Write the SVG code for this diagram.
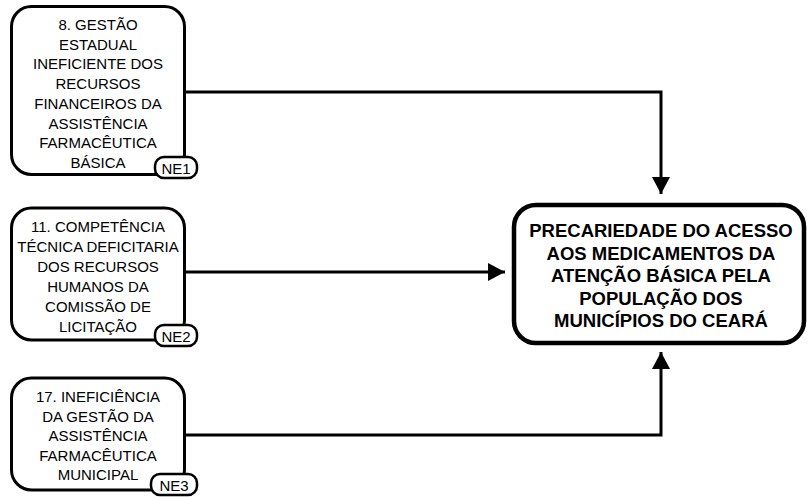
<svg xmlns="http://www.w3.org/2000/svg" width="807" height="497" viewBox="0 0 807 497">
<style>
.box{fill:#fff;stroke:#000;stroke-width:3}
.main{fill:#fff;stroke:#000;stroke-width:4.5}
.badge{fill:#fff;stroke:#000;stroke-width:2.5}
.t{font-family:"Liberation Sans",Arial,sans-serif;font-size:15px;fill:#000;text-anchor:middle}
.tb{font-family:"Liberation Sans",Arial,sans-serif;font-size:18.5px;font-weight:bold;fill:#000;text-anchor:middle}
.c{fill:none;stroke:#000;stroke-width:3}
</style>
<defs>
<marker id="ah" markerUnits="userSpaceOnUse" markerWidth="18" markerHeight="18" refX="17" refY="9" orient="auto" viewBox="0 0 18 18">
<path d="M0,0 L17,9 L0,18 Z" fill="#000"/>
</marker>
</defs>
<g id="connectors">
<path class="c" d="M185,92 H661 V194" marker-end="url(#ah)"/>
<path class="c" d="M185,272 H505" marker-end="url(#ah)"/>
<path class="c" d="M185,435 H661 V352" marker-end="url(#ah)"/>
</g>
<g id="node1">
<rect class="box" x="11.5" y="6.5" width="173" height="168" rx="20"/>
<text class="t" x="98" y="30">8. GESTÃO</text>
<text class="t" x="98" y="49.7">ESTADUAL</text>
<text class="t" x="98" y="69.4">INEFICIENTE DOS</text>
<text class="t" x="98" y="89.1">RECURSOS</text>
<text class="t" x="98" y="108.8">FINANCEIROS DA</text>
<text class="t" x="98" y="128.5">ASSISTÊNCIA</text>
<text class="t" x="98" y="148.2">FARMACÊUTICA</text>
<text class="t" x="98" y="168">BÁSICA</text>
<rect class="badge" x="155" y="157" width="42" height="21" rx="9"/>
<text class="t" x="176" y="174">NE1</text>
</g>
<g id="node2">
<rect class="box" x="11.5" y="208" width="173" height="132" rx="20"/>
<text class="t" x="98" y="232">11. COMPETÊNCIA</text>
<text class="t" x="98" y="252">TÉCNICA DEFICITARIA</text>
<text class="t" x="98" y="272">DOS RECURSOS</text>
<text class="t" x="98" y="292">HUMANOS DA</text>
<text class="t" x="98" y="312">COMISSÃO DE</text>
<text class="t" x="98" y="332">LICITAÇÃO</text>
<rect class="badge" x="155" y="325" width="42" height="21" rx="9"/>
<text class="t" x="176" y="342">NE2</text>
</g>
<g id="node3">
<rect class="box" x="11.5" y="378" width="173" height="112" rx="20"/>
<text class="t" x="98" y="402">17. INEFICIÊNCIA</text>
<text class="t" x="98" y="421.5">DA GESTÃO DA</text>
<text class="t" x="98" y="441">ASSISTÊNCIA</text>
<text class="t" x="98" y="460.5">FARMACÊUTICA</text>
<text class="t" x="98" y="480">MUNICIPAL</text>
<rect class="badge" x="151" y="474" width="46" height="21" rx="9"/>
<text class="t" x="174" y="491">NE3</text>
</g>
<g id="main">
<rect class="main" x="514" y="205" width="290" height="138" rx="22"/>
<text class="tb" x="661" y="237">PRECARIEDADE DO ACESSO</text>
<text class="tb" x="661" y="259.5">AOS MEDICAMENTOS DA</text>
<text class="tb" x="661" y="282">ATENÇÃO BÁSICA PELA</text>
<text class="tb" x="661" y="304.5">POPULAÇÃO DOS</text>
<text class="tb" x="661" y="327">MUNICÍPIOS DO CEARÁ</text>
</g>
</svg>
